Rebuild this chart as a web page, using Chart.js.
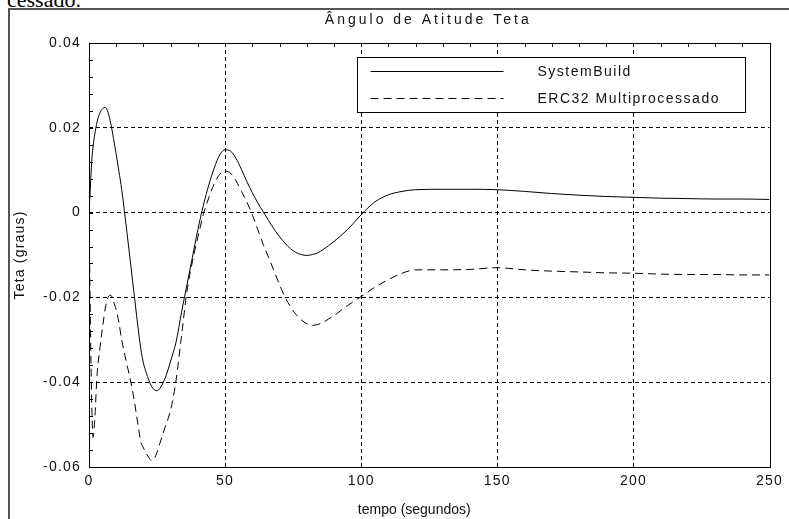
<!DOCTYPE html>
<html><head><meta charset="utf-8">
<script src="https://cdn.jsdelivr.net/npm/chart.js@4.4.1/dist/chart.umd.min.js"></script>
<style>
html,body{margin:0;padding:0;background:#fff;overflow:hidden;}
#wrap{position:relative;width:789px;height:519px;overflow:hidden;background:#fff;}
#frame{position:absolute;left:8px;top:8px;width:800px;height:600px;border-left:2px solid #555;border-top:2px solid #555;}
#doc{position:absolute;left:7px;top:-11px;font:22px/22px "Liberation Serif","DejaVu Serif",serif;color:#000;white-space:nowrap;}
canvas{position:absolute;left:0;top:0;}
</style></head><body>
<div id="wrap"><div id="doc">cessado.</div><div id="frame"></div><canvas id="c" width="789" height="519"></canvas></div>
<script>
const chartTitle = 'Ângulo de Atitude Teta';
const xTitle = 'tempo (segundos)';
const yTitle = 'Teta (graus)';
const seriesLabels = ['SystemBuild', 'ERC32 Multiprocessado'];
const xTicks = [0, 50, 100, 150, 200, 250];
const yTicks = [-0.06, -0.04, -0.02, 0, 0.02, 0.04];

const tempo = [0,0.5,1,1.5,2,3,4,5,6,7,8,9,10,11,12,14,16,18,19,20,22,23,24,25,26,28,30,32,34,36,38,40,42,44,46,48,50,52,54,56,58,60,62,64,66,68,70,72,74,76,78,80,82,84,86,88,90,95,100,105,110,115,120,130,140,150,160,170,180,190,200,210,220,230,240,250];

const systemBuild = [0,0.006,0.012,0.0155,0.018,0.0215,0.0235,0.0245,0.0248,0.0236,0.021,0.0175,0.0137,0.0097,0.0055,-0.005,-0.016,-0.027,-0.032,-0.0355,-0.0395,-0.041,-0.0418,-0.042,-0.0415,-0.039,-0.035,-0.0305,-0.0235,-0.017,-0.0105,-0.004,0.0017,0.0065,0.0105,0.0136,0.0148,0.0145,0.0128,0.0102,0.0073,0.0047,0.0023,0.0002,-0.0019,-0.0039,-0.0057,-0.0072,-0.0085,-0.0094,-0.0099,-0.0101,-0.0099,-0.0095,-0.0087,-0.0078,-0.0068,-0.004,-0.0005,0.0025,0.0042,0.005,0.0054,0.0055,0.0055,0.0054,0.005,0.0045,0.0041,0.0038,0.0036,0.0034,0.0033,0.0032,0.0032,0.0031];

const erc32 = [0,-0.025,-0.045,-0.053,-0.05,-0.038,-0.032,-0.027,-0.0225,-0.02,-0.0195,-0.021,-0.023,-0.026,-0.03,-0.036,-0.042,-0.05,-0.054,-0.0555,-0.0578,-0.0585,-0.058,-0.0565,-0.0545,-0.0505,-0.0465,-0.0395,-0.029,-0.0185,-0.0115,-0.0058,-0.0005,0.0035,0.0068,0.009,0.0098,0.0093,0.0075,0.005,0.0025,-0.0005,-0.004,-0.0075,-0.0106,-0.0138,-0.017,-0.0199,-0.0222,-0.0240,-0.0253,-0.0262,-0.0266,-0.0264,-0.0259,-0.0251,-0.0243,-0.0219,-0.0198,-0.0176,-0.0158,-0.0143,-0.0135,-0.0135,-0.0134,-0.013,-0.0135,-0.0138,-0.014,-0.0142,-0.0143,-0.0145,-0.0146,-0.0146,-0.0147,-0.0147];

Chart.defaults.font.family = '"Liberation Sans", Arial, sans-serif';
Chart.defaults.font.size = 14;
Chart.defaults.color = '#111';

const BASE_LS = '1.2px';
const spacingPlugin = {
  id: 'spacing',
  beforeUpdate(chart) { chart.ctx.letterSpacing = BASE_LS; },
  afterLayout(chart) {
    const patch = (s, ls, dx) => {
      if (!s || s._lsPatched) return;
      s._lsPatched = true;
      const orig = s.drawTitle;
      s.drawTitle = function (...a) {
        const ctx = this.ctx;
        const prev = ctx.letterSpacing;
        ctx.save();
        ctx.translate(dx, 0);
        ctx.letterSpacing = ls;
        orig.apply(this, a);
        ctx.restore();
        ctx.letterSpacing = prev;
      };
    };
    patch(chart.scales.xTop, '3px', -1);
    patch(chart.scales.x, '0px', -15);
  },
  beforeDraw(chart) { chart.ctx.letterSpacing = BASE_LS; }
};

const framePlugin = {
  id: 'frameTicks',
  afterDraw(chart) {
    const ctx = chart.ctx, ca = chart.chartArea;
    const xs = chart.scales.x, ys = chart.scales.y;
    ctx.save();
    ctx.strokeStyle = '#000';
    ctx.lineWidth = 1;
    ctx.setLineDash([]);
    ctx.beginPath();
    const xMajor = xTicks[1] - xTicks[0];
    for (let v = xTicks[0]; v <= xTicks[xTicks.length - 1] + 1e-9; v += xMajor / 5) {
      const px = Math.round(xs.getPixelForValue(v)) + 0.5;
      ctx.moveTo(px, ca.top); ctx.lineTo(px, ca.top + 4);
    }
    xTicks.forEach(v => {
      const px = Math.round(xs.getPixelForValue(v)) + 0.5;
      ctx.moveTo(px, ca.bottom); ctx.lineTo(px, ca.bottom - 4);
    });
    const yMajor = yTicks[1] - yTicks[0];
    for (let v = yTicks[0]; v <= yTicks[yTicks.length - 1] + 1e-9; v += yMajor / 5) {
      const py = Math.round(ys.getPixelForValue(v)) + 0.5;
      ctx.moveTo(ca.left, py); ctx.lineTo(ca.left + 4, py);
    }
    ctx.stroke();
    ctx.strokeRect(Math.round(ca.left) + 0.5, Math.round(ca.top) + 0.5,
                   Math.round(ca.right - ca.left), Math.round(ca.bottom - ca.top));
    const W = ca.right - ca.left, H = ca.bottom - ca.top;
    const bx = Math.round(ca.left + W * 0.3945) + 0.5, by = Math.round(ca.top + H * 0.033) + 0.5;
    const bw = Math.round(W * 0.5705), bh = Math.round(H * 0.13);
    ctx.fillStyle = '#fff';
    ctx.fillRect(bx, by, bw, bh);
    ctx.strokeRect(bx, by, bw, bh);
    chart.data.datasets.forEach((ds, i) => {
      const ly = Math.round(by + bh * (0.25 + 0.48 * i)) + 0.5;
      ctx.beginPath();
      ctx.setLineDash(ds.borderDash || []);
      ctx.strokeStyle = ds.borderColor;
      ctx.lineWidth = ds.borderWidth;
      ctx.moveTo(bx + 13, ly); ctx.lineTo(bx + 146, ly);
      ctx.stroke();
      ctx.setLineDash([]);
      ctx.fillStyle = '#111';
      ctx.font = '14px "Liberation Sans", Arial, sans-serif';
      ctx.letterSpacing = '1.5px';
      ctx.textAlign = 'left';
      ctx.textBaseline = 'middle';
      ctx.fillText(ds.label, bx + 180, ly + 1);
    });
    ctx.restore();
  }
};

function tickSetter(list) {
  return function (scale) { scale.ticks = list.map(v => ({ value: v })); };
}

new Chart(document.getElementById('c'), {
  type: 'line',
  data: {
    datasets: [
      { label: seriesLabels[0], data: tempo.map((t, i) => ({ x: t, y: systemBuild[i] })),
        borderColor: '#000', borderWidth: 1, pointRadius: 0, fill: false,
        cubicInterpolationMode: 'monotone', xAxisID: 'x', yAxisID: 'y' },
      { label: seriesLabels[1], data: tempo.map((t, i) => ({ x: t, y: erc32[i] })),
        borderColor: '#000', borderWidth: 1, borderDash: [8, 5], pointRadius: 0, fill: false,
        cubicInterpolationMode: 'monotone', xAxisID: 'x', yAxisID: 'y' }
    ]
  },
  options: {
    responsive: false,
    animation: false,
    devicePixelRatio: 1,
    layout: { padding: { left: 0, right: 13, top: 0, bottom: 0 } },
    plugins: { legend: { display: false }, tooltip: { enabled: false }, title: { display: false } },
    scales: {
      x: {
        type: 'linear', position: 'bottom', min: 0, max: 250,
        afterBuildTicks: tickSetter(xTicks),
        afterFit(s) { s.height = 52; },
        grid: { drawTicks: false, lineWidth: 1,
          color: c => (c.tick && (c.tick.value === 0 || c.tick.value === 250)) ? 'rgba(0,0,0,0)' : '#000' },
        border: { display: false, dash: [4, 3] },
        ticks: { padding: 6, maxRotation: 0, autoSkip: false, color: '#111', callback: v => String(v) },
        title: { display: true, text: xTitle, color: '#111', padding: { top: 0, bottom: 0 } }
      },
      xTop: {
        type: 'linear', position: 'top', min: 0, max: 250,
        afterFit(s) { s.height = 43; },
        grid: { display: false, drawTicks: false },
        border: { display: false },
        ticks: { display: false },
        title: { display: true, text: chartTitle, color: '#111', padding: { top: 12, bottom: 0 } }
      },
      y: {
        type: 'linear', position: 'left', min: -0.06, max: 0.04,
        afterBuildTicks: tickSetter(yTicks),
        afterFit(s) { s.width = 89; },
        grid: { drawTicks: false, lineWidth: 1,
          color: c => (c.tick && (Math.abs(c.tick.value - 0.04) < 1e-9 || Math.abs(c.tick.value + 0.06) < 1e-9)) ? 'rgba(0,0,0,0)' : '#000' },
        border: { display: false, dash: [4, 3] },
        ticks: { padding: 8, autoSkip: false, color: '#111',
          callback: v => Math.abs(v) < 1e-12 ? '0' : Number(v).toFixed(2) },
        title: { display: true, text: yTitle, color: '#111', padding: { top: 12, bottom: 0 } }
      }
    }
  },
  plugins: [spacingPlugin, framePlugin]
});
</script>
</body></html>
